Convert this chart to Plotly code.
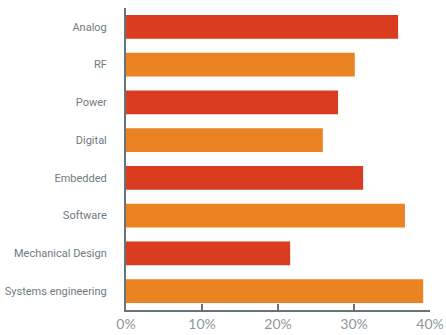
import plotly.graph_objects as go

# Share of respondents by engineering discipline
categories = ["Analog", "RF", "Power", "Digital", "Embedded", "Software",
              "Mechanical Design", "Systems engineering"]
shares = [35.8, 30.1, 27.9, 25.9, 31.2, 36.7, 21.6, 39.1]
bar_colors = ["#D93C1E", "#EC8323", "#D93C1E", "#EC8323",
              "#D93C1E", "#EC8323", "#D93C1E", "#EC8323"]
x_ticks = [0, 10, 20, 30, 40]
x_tick_labels = ["0%", "10%", "20%", "30%", "40%"]

axis_gray = "#66737A"

fig = go.Figure(
    go.Bar(
        x=shares,
        y=categories,
        orientation="h",
        marker=dict(color=bar_colors, line=dict(width=0)),
        hoverinfo="x+y",
    )
)

fig.update_layout(
    width=446,
    height=335,
    margin=dict(l=126, r=16, t=8, b=25),
    paper_bgcolor="white",
    plot_bgcolor="white",
    bargap=0.37,
    showlegend=False,
    xaxis=dict(
        range=[0, 40],
        tickvals=x_ticks,
        ticktext=x_tick_labels,
        ticks="inside",
        ticklen=6,
        tickwidth=2,
        tickcolor=axis_gray,
        showline=True,
        linecolor=axis_gray,
        linewidth=2,
        showgrid=False,
        zeroline=False,
        automargin=False,
        tickfont=dict(family="Lato, Open Sans, sans-serif", size=14, color="#8E979C"),
        fixedrange=True,
    ),
    yaxis=dict(
        autorange="reversed",
        showline=True,
        linecolor=axis_gray,
        linewidth=2,
        ticks="",
        ticklabelstandoff=15,
        showgrid=False,
        zeroline=False,
        automargin=False,
        tickfont=dict(family="Roboto, sans-serif", size=11, color="#6F7A80"),
        fixedrange=True,
    ),
)

fig.write_html("out.html")
